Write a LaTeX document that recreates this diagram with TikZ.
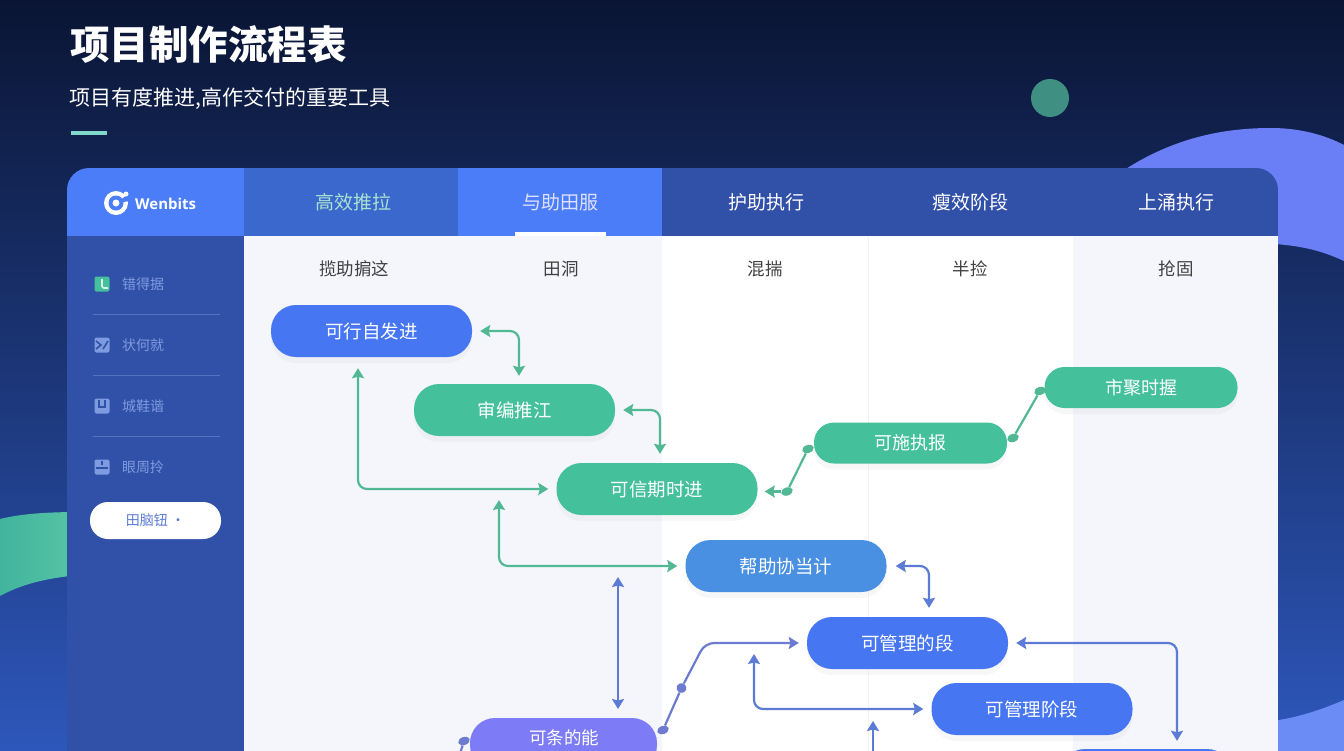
\documentclass[tikz,border=0pt]{standalone}
\usepackage{fontspec}
\setmainfont{Noto Sans CJK SC}
\newfontfamily\cjk{Noto Sans CJK SC}
\newfontfamily\latinsans{Open Sans}
\usetikzlibrary{arrows.meta, shapes.geometric, shadows}
\definecolor{navytop}{HTML}{0A1534}
\definecolor{navymid}{HTML}{12245A}
\definecolor{navylow}{HTML}{2E58BD}
\definecolor{sidebar}{HTML}{3150A8}
\definecolor{tabbright}{HTML}{4A7DF7}
\definecolor{tabmid}{HTML}{3B68CC}
\definecolor{colpale}{HTML}{F4F6FC}
\definecolor{stepblue}{HTML}{4676F2}
\definecolor{stepgreen}{HTML}{44C09A}
\definecolor{stepsky}{HTML}{4A90E2}
\definecolor{steppurple}{HTML}{7D7BF5}
\definecolor{linkgreen}{HTML}{52B893}
\definecolor{linkblue}{HTML}{5B7BD5}
\definecolor{linkpurple}{HTML}{6C7BD0}
\definecolor{sidetext}{HTML}{7F9BE0}
\tikzset{
    stepbox/.style={rectangle, rounded corners=25pt, minimum width=201pt, minimum height=52pt, inner sep=0pt, text=white, font=\cjk\fontsize{18.5}{19}\selectfont, drop shadow={opacity=0.06, shadow xshift=0pt, shadow yshift=-6pt}},
    slimbox/.style={stepbox, rounded corners=20pt, minimum width=193pt, minimum height=41pt, fill=stepgreen, font=\cjk\fontsize{18}{19}\selectfont},
    tabtext/.style={font=\cjk\fontsize{19}{20}\selectfont, text=white},
    coltext/.style={font=\cjk\fontsize{17.5}{18}\selectfont, text=black!75},
    sidelabel/.style={font=\cjk\fontsize{14}{15}\selectfont, text=sidetext},
    sideicon/.style={rectangle, rounded corners=2pt, minimum size=15pt, inner sep=0pt, fill=sidetext},
    iconmark/.style={sidebar, line width=1.6pt},
    link/.style={line width=2.2pt, rounded corners=9pt},
    twoway/.style={link, {Stealth[length=10pt, width=12pt, inset=1.5pt]}-{Stealth[length=10pt, width=12pt, inset=1.5pt]}},
    oneway/.style={link, -{Stealth[length=10pt, width=12pt, inset=1.5pt]}},
    linkdot/.style={ellipse, minimum width=12pt, minimum height=8pt, inner sep=0pt, rotate=20}
}
\begin{document}
\begin{tikzpicture}[x=1pt, y=-1pt]
    \clip (0, 0) rectangle (1344, 750);
    \shade [top color=navytop, middle color=navymid, bottom color=navylow] (0, 0) rectangle (1344, 760);
    \fill [color={rgb,255:red,106;green,127;blue,245}] (1110, 180) .. controls (1170, 135) and (1230, 128) .. (1271, 128) .. controls (1300, 128) and (1325, 135) .. (1344, 145) -- (1344, 261) .. controls (1320, 250) and (1300, 245) .. (1260, 243) -- cycle;
    \fill [color={rgb,255:red,107;green,140;blue,245}] (1260, 722) .. controls (1295, 720) and (1325, 708) .. (1344, 700) -- (1344, 760) -- (1260, 760) -- cycle;
    \shade [left color=stepgreen!88!navylow, right color=stepgreen!90!white] (0, 519) .. controls (20, 514) and (45, 512) .. (80, 512) -- (80, 575) .. controls (45, 578) and (20, 585) .. (0, 596) -- cycle;
    \fill [color={rgb,255:red,63;green,143;blue,131}] (1050, 98) circle (19pt);
    \fill [color={rgb,255:red,127;green,216;blue,200}] (71, 131) rectangle (107, 135);
    \node [anchor=west, text=white, inner sep=0pt] (title) at (70, 45) {\cjk\bfseries\fontsize{39.5}{40}\selectfont 项目制作流程表};
    \node [anchor=west, text=white, inner sep=0pt] (subtitle) at (69, 99) {\cjk\fontsize{21}{22}\selectfont 项目有度推进,高作交付的重要工具};
    \begin{scope}
        \clip [rounded corners=22pt] (67, 168) rectangle (1278, 820);
        \fill [colpale] (244, 236) rectangle (662, 760);
        \fill [white] (662, 236) rectangle (1073, 760);
        \fill [colpale] (1073, 236) rectangle (1278, 760);
        \draw [black!5] (868, 236) -- (868, 760);
        \fill [sidebar] (67, 236) rectangle (244, 760);
        \fill [tabbright] (67, 168) rectangle (244, 236);
        \fill [tabmid] (244, 168) rectangle (458, 236);
        \fill [tabbright] (458, 168) rectangle (662, 236);
        \fill [sidebar] (662, 168) rectangle (1278, 236);
        \fill [white] (515, 232) rectangle (606, 236);
    \end{scope}
    \fill [white] (116, 203) circle (12pt);
    \fill [tabbright] (116, 203) circle (7.5pt);
    \fill [tabbright] (116, 203) -- (130, 193) -- (130, 201) -- cycle;
    \fill [white] (116, 203) circle (3.5pt);
    \fill [white] (126, 194) circle (2.5pt);
    \node [anchor=west, text=white, inner sep=0pt, font=\latinsans\bfseries\fontsize{15}{16}\selectfont] (brand) at (135, 204) {Wenbits};
    \node [tabtext, text=stepgreen!45!white] (taba) at (353, 202) {高效推拉};
    \node [tabtext, text=blue!12!white] (tabb) at (560, 202) {与助田服};
    \node [tabtext] (tabc) at (766, 202) {护助执行};
    \node [tabtext] (tabd) at (970, 202) {瘦效阶段};
    \node [tabtext] (tabe) at (1176, 202) {上涌执行};
    \node [coltext] (cola) at (354, 269) {揽助掮这};
    \node [coltext] (colb) at (561, 269) {田洞};
    \node [coltext] (colc) at (765, 269) {混揣};
    \node [coltext] (cold) at (970, 269) {半捡};
    \node [coltext] (cole) at (1176, 269) {抢固};
    \node [sideicon, fill=stepgreen] (icona) at (102, 284) {};
    \node [sideicon] (iconb) at (102, 345) {};
    \node [sideicon] (iconc) at (102, 406) {};
    \node [sideicon] (icond) at (102, 467) {};
    \draw [iconmark, white!80!stepgreen, rounded corners=2pt] (102, 279) -- (102, 288) -- (108, 288);
    \draw [iconmark] (96, 341) -- (101, 345) -- (96, 349) (108, 341) -- (103, 349);
    \draw [iconmark] (99, 400) -- (99, 407) -- (105, 407) -- (105, 400);
    \draw [iconmark] (96, 468) -- (108, 468) (102, 461) -- (102, 465);
    \node [sidelabel] (sidea) at (143, 284) {错得据};
    \node [sidelabel] (sideb) at (143, 345) {状何就};
    \node [sidelabel] (sidec) at (143, 406) {城鞋谐};
    \node [sidelabel] (sided) at (143, 467) {眼周拎};
    \foreach \y in {314, 375, 436}
        \draw [sidetext!45!sidebar] (93, \y) -- (220, \y);
    \node [rectangle, rounded corners=18pt, fill=white, minimum width=131pt, minimum height=37pt, inner sep=0pt, text=linkblue, font=\cjk\fontsize{14}{15}\selectfont] (sidebtn) at (155.5, 520.5) {田脑钮 ·};
    \node [stepbox, fill=stepblue] (plan) at (371.5, 331) {可行自发进};
    \node [stepbox, fill=stepgreen] (build) at (514.5, 410) {审编推江};
    \node [stepbox, fill=stepgreen] (track) at (657, 489) {可信期时进};
    \node [slimbox] (exec) at (910.5, 443) {可施执报};
    \node [slimbox] (market) at (1141, 387.5) {市聚时握};
    \node [stepbox, fill=stepsky] (helper) at (786, 566) {帮助协当计};
    \node [stepbox, fill=stepblue] (manage) at (907.5, 643) {可管理的段};
    \node [stepbox, fill=stepblue] (phase) at (1032, 709) {可管理阶段};
    \node [stepbox, fill=steppurple, minimum width=187pt, text height=14pt] (sample) at (563.5, 744) {};
    \node [text=white, font=\cjk\fontsize{17.5}{18}\selectfont] (samplet) at (564, 738) {可条的能};
    \node [stepbox, fill=stepblue, minimum width=172pt] (last) at (1146, 775) {};
    \node [linkdot, fill=linkgreen] (dota) at (787, 491.5) {};
    \node [linkdot, fill=linkgreen] (dotb) at (808, 449) {};
    \node [linkdot, fill=linkgreen] (dotc) at (1013, 438) {};
    \node [linkdot, fill=linkgreen] (dotd) at (1040, 391) {};
    \node [linkdot, fill=linkpurple] (dote) at (663, 730) {};
    \node [linkdot, fill=linkpurple, minimum width=10pt, minimum height=10pt] (dotf) at (681.5, 688) {};
    \node [linkdot, fill=linkpurple] (dotg) at (464, 741) {};
    \coordinate (upa) at (499, 492);
    \coordinate (upb) at (618, 577);
    \coordinate (upc) at (618, 709);
    \coordinate (upd) at (754, 654);
    \coordinate (upe) at (873, 721);
    \coordinate (downe) at (873, 760);
    \coordinate (downg) at (458, 760);
    \coordinate (bend) at (705, 643);
    \draw [twoway, linkgreen, shorten <=8pt, shorten >=8pt] (plan.east) -| ([xshift=4.5pt]build.north);
    \draw [twoway, linkgreen, shorten <=8pt, shorten >=9pt] (build.east) -| ([xshift=3pt]track.north);
    \draw [twoway, linkgreen, shorten <=8pt, shorten >=11pt] (track.west) -| ([xshift=-13.5pt]plan.south);
    \draw [oneway, linkgreen, shorten >=7pt] (dota) -- ([yshift=-2.5pt]track.east);
    \draw [linkgreen, line width=2.2pt] (dota) -- (dotb);
    \draw [linkgreen, line width=2.2pt] (dotc) -- (dotd);
    \draw [twoway, linkgreen, shorten <=8pt, shorten >=8pt] (helper.west) -| (upa);
    \draw [twoway, linkblue, shorten <=9pt, shorten >=9pt] (helper.east) -| ([xshift=21.5pt]manage.north);
    \draw [twoway, linkblue] (upb) -- (upc);
    \draw [oneway, linkpurple, shorten >=8pt] (dotf) -- (bend) -- (manage.west);
    \draw [linkpurple, line width=2.2pt] (dote) -- (dotf);
    \draw [linkpurple, line width=2.2pt] (dotg) -- (downg);
    \draw [twoway, linkblue, shorten >=8pt] (upd) |- (phase.west);
    \draw [oneway, linkblue] (downe) -- (upe);
    \draw [twoway, linkblue, shorten <=8pt, shorten >=8pt] (manage.east) -| ([xshift=31pt]last.north);
\end{tikzpicture}
\end{document}
